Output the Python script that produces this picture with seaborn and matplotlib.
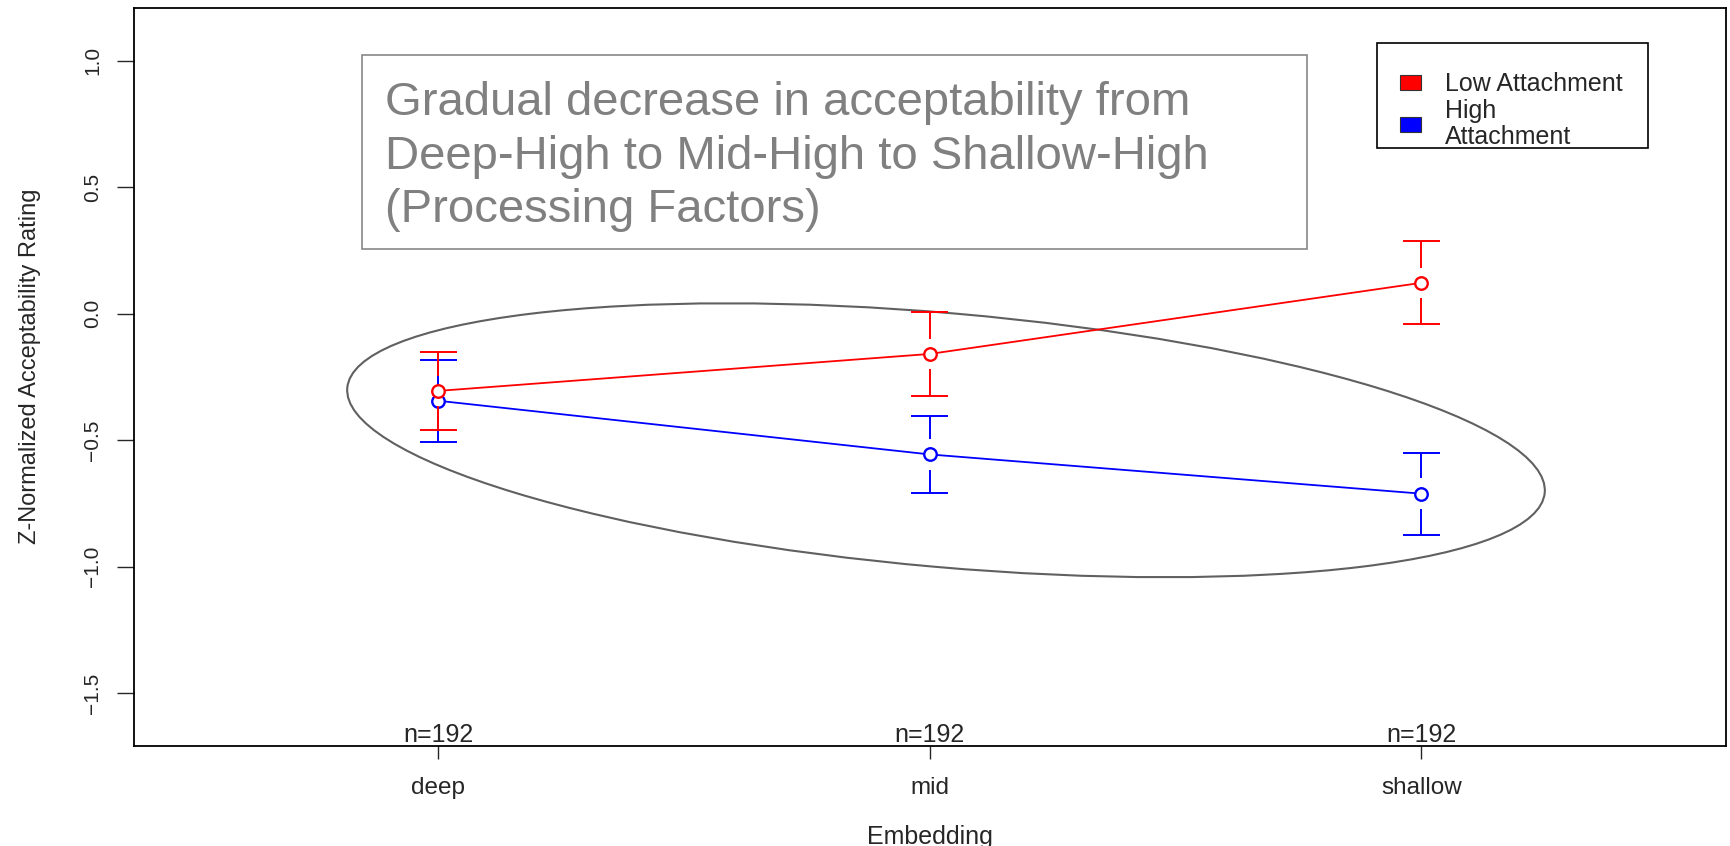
import numpy as np
import pandas as pd
import seaborn as sns
import matplotlib.pyplot as plt
from matplotlib.patches import Ellipse, Rectangle, Patch
from matplotlib.transforms import ScaledTranslation

sns.set_style('white')
plt.rcParams['font.family'] = ['Liberation Sans', 'DejaVu Sans']

# 数据
embedding = ['deep', 'mid', 'shallow']
n_counts = [192, 192, 192]
low_mean = [-0.305, -0.159, 0.122]
low_lower = [-0.459, -0.325, -0.039]
low_upper = [-0.153, 0.005, 0.286]
high_mean = [-0.344, -0.556, -0.711]
high_lower = [-0.508, -0.709, -0.874]
high_upper = [-0.184, -0.405, -0.549]
y_ticks = [-1.5, -1.0, -0.5, 0.0, 0.5, 1.0]
note = 'Gradual decrease in acceptability from\nDeep-High to Mid-High to Shallow-High\n(Processing Factors)'

red = '#ff0000'
blue = '#0000ff'
pos = np.arange(len(embedding))

fig = plt.figure(figsize=(17.3, 8.46), dpi=100)
ax = fig.add_axes([0.0772, 0.1182, 0.9205, 0.8724])

# 误差线 (带缺口) + 均值线
gap = 0.06
cap = 0.038
for mean, lo, hi, col in [(high_mean, high_lower, high_upper, blue),
                          (low_mean, low_lower, low_upper, red)]:
    m = np.array(mean)
    ax.vlines(pos, np.array(hi), m + gap, color=col, lw=1.4)
    ax.vlines(pos, m - gap, np.array(lo), color=col, lw=1.4)
    ax.hlines(hi, pos - cap, pos + cap, color=col, lw=1.4)
    ax.hlines(lo, pos - cap, pos + cap, color=col, lw=1.4)
    d = pd.DataFrame({'pos': pos, 'mean': mean})
    sns.lineplot(data=d, x='pos', y='mean', color=col, marker='o', markersize=9,
                 markerfacecolor='white', markeredgecolor=col, markeredgewidth=1.7,
                 lw=1.3, ax=ax)

ax.set_xlim(-0.62, 2.62)
ax.set_ylim(-1.708, 1.208)
ax.set_xticks(pos)
ax.set_xticklabels(embedding, fontsize=17.5)
ax.set_yticks(y_ticks)
ax.set_yticklabels([f'{v:.1f}'.replace('-', '\u2212') for v in y_ticks], fontsize=15)
ax.tick_params(axis='y', labelrotation=90, length=12.5, width=1, pad=10, left=True)
ax.tick_params(axis='x', length=9, width=1, pad=13, bottom=True)
for lab in ax.get_yticklabels():
    lab.set_va('center')

for s in ax.spines.values():
    s.set_color('black')
    s.set_linewidth(1.3)

ax.set_xlabel('Embedding', fontsize=18)
ax.set_ylabel('Z-Normalized Acceptability Rating', fontsize=17)
ax.xaxis.set_label_coords(0.5, -0.107)
ax.yaxis.set_label_coords(-0.058, 0.515)

# n=192
for p, n in zip(pos, n_counts):
    ax.text(p, 0.006, f'n={n}', transform=ax.get_xaxis_transform(),
            ha='center', va='baseline', fontsize=18)

# 椭圆
ell = Ellipse((0, 0), 12.02, 2.54, angle=-5.0, fill=False, ec='#606060', lw=1.5,
              transform=fig.dpi_scale_trans + ScaledTranslation(1.033, -0.5, ax.transData))
ax.add_patch(ell)

# 注释框
ax.add_patch(Rectangle((0.1435, 0.6733), 0.5934, 0.2628, transform=ax.transAxes,
                       fill=False, ec='#888888', lw=1.2))
ax.text(0.1579, 0.9015, note, transform=ax.transAxes, ha='left', va='top',
        fontsize=34, color='#808080', linespacing=1.29)

# 图例
ax.add_patch(Rectangle((0.7809, 0.8101), 0.1702, 0.1422, transform=ax.transAxes,
                       fill=False, ec='black', lw=1.2))
handles = [Patch(facecolor=red, edgecolor='#333333', lw=0.8),
           Patch(facecolor=blue, edgecolor='#333333', lw=0.8)]
leg = ax.legend(handles, ['Low Attachment', 'High\nAttachment'], loc='upper left',
                bbox_to_anchor=(0.7953, 0.913), frameon=False, fontsize=18,
                borderpad=0, borderaxespad=0, handlelength=0.84, handleheight=0.52,
                handletextpad=0.96, labelspacing=0.1)
for t in leg.get_texts():
    t.set_linespacing(1.1)

fig.savefig('out.png', dpi=100, facecolor='white')
